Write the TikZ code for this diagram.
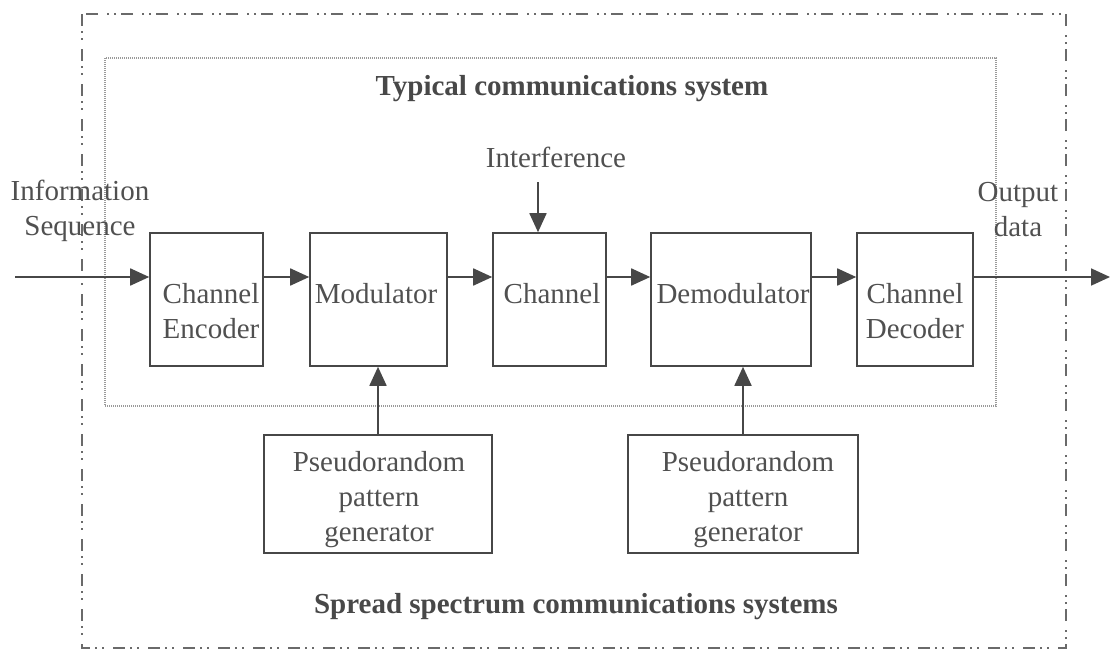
\documentclass[tikz,border=0pt]{standalone}
\usepackage{fontspec}
\setmainfont{Liberation Serif}
\usetikzlibrary{arrows.meta}
\definecolor{linec}{HTML}{474747}
\definecolor{textc}{HTML}{505050}
\definecolor{framec}{HTML}{6A6A6A}
\definecolor{dotc}{HTML}{9A9A9A}
\begin{document}
\begin{tikzpicture}[x=1pt,y=-1pt,
  every node/.style={font=\fontsize{29}{35}\selectfont, text=textc, inner sep=0pt},
  blk/.style={draw=linec, line width=1.6pt, inner sep=0pt},
  lbl/.style={align=center},
  ttl/.style={font=\fontsize{29}{35}\selectfont\bfseries, text=textc!90!black},
  conn/.style={draw=linec, line width=1.8pt, -{Triangle[length=19pt,width=17pt]}},
  outerframe/.style={draw=framec, line width=1.4pt, dash pattern=on 12pt off 5pt on 2pt off 5pt on 2pt off 9pt},
  innerframe/.style={draw=dotc, line width=1.6pt, dash pattern=on 1pt off 1pt}
]
\useasboundingbox (0,0) rectangle (1110,651);

% frames
\draw[outerframe] (82,14) rectangle (1066,648);
\draw[innerframe] (105,58) rectangle (996,406);

% titles
\node[ttl] (t1) at (572,89) {Typical communications system};
\node[ttl] (t2) at (576,607) {Spread spectrum communications systems};

% blocks
\node[blk, minimum width=113pt, minimum height=133pt] (enc) at (206.5,299.5) {};
\node[blk, minimum width=137pt, minimum height=133pt] (mod) at (378.5,299.5) {};
\node[blk, minimum width=113pt, minimum height=133pt] (chn) at (549.5,299.5) {};
\node[blk, minimum width=160pt, minimum height=133pt] (dem) at (731,299.5) {};
\node[blk, minimum width=116pt, minimum height=133pt] (dec) at (915,299.5) {};
\node[blk, minimum width=228pt, minimum height=118pt] (pn1) at (378,494) {};
\node[blk, minimum width=230pt, minimum height=118pt] (pn2) at (743,494) {};

% block texts
\node[lbl] (encT) at (211,311) {Channel\\Encoder};
\node[lbl] (modT) at (376,294) {Modulator};
\node[lbl] (chnT) at (552,294) {Channel};
\node[lbl] (demT) at (733,294) {Demodulator};
\node[lbl] (decT) at (915,311) {Channel\\Decoder};
\node[lbl] (pn1T) at (379,500) {Pseudorandom\\pattern\\generator};
\node[lbl] (pn2T) at (748,500) {Pseudorandom\\pattern\\generator};

% free texts
\node[lbl] (info) at (80,211) {Information\\Sequence};
\node[lbl] (outd) at (1018,210) {Output\\data};
\node (intf) at (556,157) {Interference};

% row coordinates
\coordinate (in) at (15,277);
\coordinate (out) at (1110,277);
\coordinate (itop) at (538,182);

% connectors
\draw[conn] (in) -- (in -| enc.west);
\draw[conn] (in -| enc.east) -- (in -| mod.west);
\draw[conn] (in -| mod.east) -- (in -| chn.west);
\draw[conn] (in -| chn.east) -- (in -| dem.west);
\draw[conn] (in -| dem.east) -- (in -| dec.west);
\draw[conn] (in -| dec.east) -- (out);
\draw[conn] (itop) -- (itop |- chn.north);
\draw[conn] (pn1.north) -- (pn1.north |- mod.south);
\draw[conn] (pn2.north) -- (pn2.north |- dem.south);
\end{tikzpicture}
\end{document}
